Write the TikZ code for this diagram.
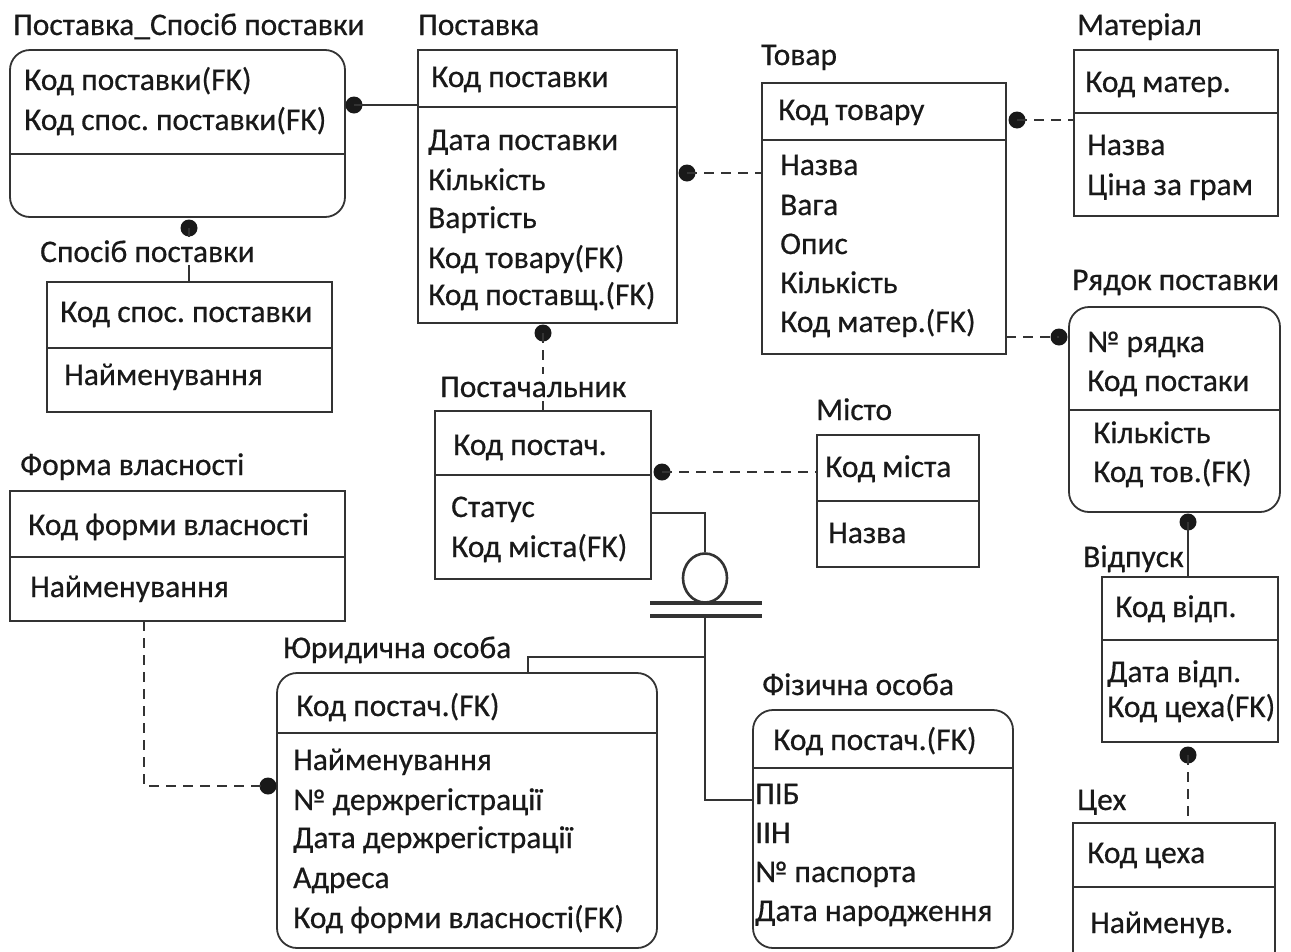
\documentclass[tikz,border=0pt]{standalone}
\usepackage{fontspec}
\setmainfont{Carlito}[FakeBold=0.5]
\usetikzlibrary{shapes.geometric}
\definecolor{ink}{gray}{0.1}
\definecolor{edge}{gray}{0.2}
\tikzset{
  ent/.style={draw=edge, line width=1.8pt, anchor=north west, inner sep=0pt, outer sep=0pt},
  rent/.style={ent, rounded corners=20pt},
  attr/.style={anchor=base west, inner sep=0pt, text=ink, font=\fontsize{31.5}{39}\selectfont\frenchspacing},
  ttl/.style={attr, fill=white, inner ysep=3pt},
  sepline/.style={draw=edge, line width=1.8pt},
  rel/.style={draw=edge, line width=2pt},
  drel/.style={rel, dash pattern=on 10pt off 7pt},
  dotnode/.style={circle, fill=ink, inner sep=0pt, minimum size=17pt},
  subline/.style={draw=edge, line width=2.6pt},
  barline/.style={draw=edge, line width=3.4pt},
}
\newcommand\divline[2]{\draw[sepline] ([yshift=-#2pt]#1.north west) -- ([yshift=-#2pt]#1.north east);}
\begin{document}
\frenchspacing
\begin{tikzpicture}[x=1pt,y=-1pt]
\useasboundingbox (0,0) rectangle (1291,951);
% entities
\node[rent, minimum width=335pt, minimum height=167pt] (psp) at (10,50) {};
\node[ent, minimum width=285pt, minimum height=130pt] (sp) at (47,282) {};
\node[ent, minimum width=259pt, minimum height=273pt] (post) at (418,50) {};
\node[ent, minimum width=244pt, minimum height=271pt] (tov) at (762,83) {};
\node[ent, minimum width=204pt, minimum height=166pt] (mat) at (1074,50) {};
\node[rent, minimum width=211pt, minimum height=205pt] (ryad) at (1069,307) {};
\node[ent, minimum width=216pt, minimum height=168pt] (pch) at (435,411) {};
\node[ent, minimum width=162pt, minimum height=132pt] (mis) at (817,435) {};
\node[ent, minimum width=335pt, minimum height=130pt] (forma) at (10,491) {};
\node[ent, minimum width=176pt, minimum height=165pt] (vidp) at (1102,577) {};
\node[rent, minimum width=380pt, minimum height=275pt] (yur) at (277,673) {};
\node[rent, minimum width=260pt, minimum height=238pt] (fiz) at (753,710) {};
\node[ent, draw=none, minimum width=202pt, minimum height=140pt] (cex) at (1073,823) {};
\draw[sepline] (cex.south west) -- (cex.north west) -- (cex.north east) -- (cex.south east);
% dividers
\divline{psp}{104}
\divline{sp}{66}
\divline{post}{57}
\divline{tov}{57}
\divline{mat}{63}
\divline{ryad}{103}
\divline{pch}{64}
\divline{mis}{66}
\divline{forma}{66}
\divline{vidp}{63}
\divline{yur}{60}
\divline{fiz}{58}
\divline{cex}{64}
% attributes
\node[attr] (psp1) at (24,90) {Код поставки(FK)};
\node[attr] (psp2) at (24,130) {Код спос. поставки(FK)};
\node[attr] (sp1) at (60,322) {Код спос. поставки};
\node[attr] (sp2) at (64,385) {Найменування};
\node[attr] (post1) at (431,87) {Код поставки};
\node[attr] (post2) at (428,150) {Дата поставки};
\node[attr] (post3) at (428,190) {Кількість};
\node[attr] (post4) at (428,228) {Вартість};
\node[attr] (post5) at (428,268) {Код товару(FK)};
\node[attr] (post6) at (428,305) {Код поставщ.(FK)};
\node[attr] (tov1) at (778,120) {Код товару};
\node[attr] (tov2) at (780,175) {Назва};
\node[attr] (tov3) at (780,215) {Вага};
\node[attr] (tov4) at (780,254) {Опис};
\node[attr] (tov5) at (780,293) {Кількість};
\node[attr] (tov6) at (780,332) {Код матер.(FK)};
\node[attr] (mat1) at (1085,92) {Код матер.};
\node[attr] (mat2) at (1087,155) {Назва};
\node[attr] (mat3) at (1087,195) {Ціна за грам};
\node[attr] (ryad1) at (1087,352) {№ рядка};
\node[attr] (ryad2) at (1087,391) {Код постаки};
\node[attr] (ryad3) at (1093,443) {Кількість};
\node[attr] (ryad4) at (1093,482) {Код тов.(FK)};
\node[attr] (pch1) at (453,455) {Код постач.};
\node[attr] (pch2) at (451,517) {Статус};
\node[attr] (pch3) at (451,557) {Код міста(FK)};
\node[attr] (mis1) at (825,477) {Код міста};
\node[attr] (mis2) at (828,543) {Назва};
\node[attr] (forma1) at (28,535) {Код форми власності};
\node[attr] (forma2) at (30,597) {Найменування};
\node[attr] (vidp1) at (1115,617) {Код відп.};
\node[attr] (vidp2) at (1107,682) {Дата відп.};
\node[attr] (vidp3) at (1107,717) {Код цеха(FK)};
\node[attr] (yur1) at (296,716) {Код постач.(FK)};
\node[attr] (yur2) at (293,770) {Найменування};
\node[attr] (yur3) at (293,810) {№ держрегістрації};
\node[attr] (yur4) at (293,848) {Дата держрегістрації};
\node[attr] (yur5) at (293,888) {Адреса};
\node[attr] (yur6) at (293,928) {Код форми власності(FK)};
\node[attr] (fiz1) at (773,750) {Код постач.(FK)};
\node[attr] (fiz2) at (755,804) {ПІБ};
\node[attr] (fiz3) at (755,843) {ІІН};
\node[attr] (fiz4) at (755,882) {№ паспорта};
\node[attr] (fiz5) at (755,921) {Дата народження};
\node[attr] (cex1) at (1087,863) {Код цеха};
\node[attr] (cex2) at (1090,933) {Найменув.};
% relationship dots
\node[dotnode] (d1) at (354,105) {};
\node[dotnode] (d2) at (189,228) {};
\node[dotnode] (d3) at (687,173) {};
\node[dotnode] (d4) at (543,333) {};
\node[dotnode] (d5) at (1017,120) {};
\node[dotnode] (d6) at (1059,337) {};
\node[dotnode] (d7) at (1188,522) {};
\node[dotnode] (d8) at (1188,755) {};
\node[dotnode] (d9) at (662,472) {};
\node[dotnode] (d11) at (268,786) {};
% connectors
\draw[rel] (d1.center) -- (d1.center -| post.west);
\draw[rel] (d2.center) -- (d2.center |- sp.north);
\draw[drel] (d3.center) -- (d3.center -| tov.west);
\draw[drel] (d4.center) -- (d4.center |- pch.north);
\draw[drel] (d5.center) -- (d5.center -| mat.west);
\draw[drel] (d6.center -| tov.east) -- (d6.center);
\draw[rel] (d7.center) -- (d7.center |- vidp.north);
\draw[drel] (d8.center) -- (d8.center |- cex.north);
\draw[drel] (d9.center) -- (d9.center -| mis.west);
\draw[drel] ([xshift=-33.5pt]forma.south) |- (d11.center);
% subtype (category) symbol
\node[draw=edge, line width=2.6pt, ellipse, inner sep=0pt, minimum width=44pt, minimum height=49pt] (cat) at (705,578) {};
\draw[subline] ([yshift=-102pt]pch.north east) -| (cat.north);
\coordinate (bar) at (706,609.5);
\draw[barline] ([xshift=-56pt,yshift=6.5pt]bar) -- ([xshift=56pt,yshift=6.5pt]bar);
\draw[barline] ([xshift=-56pt,yshift=-6.5pt]bar) -- ([xshift=56pt,yshift=-6.5pt]bar);
\draw[subline] ([xshift=-1pt,yshift=-6.5pt]bar) |- ([yshift=-90pt]fiz.north west);
\coordinate (br) at (705,657);
\draw[subline] (br) -| ([xshift=61pt]yur.north);
% titles
\node[ttl] (t1) at (13,35) {Поставка\_Спосіб поставки};
\node[ttl] (t2) at (418,35) {Поставка};
\node[ttl] (t3) at (761,65) {Товар};
\node[ttl] (t4) at (1077,35) {Матеріал};
\node[ttl] (t5) at (40,262) {Спосіб поставки};
\node[ttl] (t6) at (1072,290) {Рядок поставки};
\node[ttl] (t7) at (440,397) {Постачальник};
\node[ttl] (t8) at (816,420) {Місто};
\node[ttl] (t9) at (20,475) {Форма власності};
\node[ttl] (t10) at (1083,567) {Відпуск};
\node[ttl] (t11) at (283,658) {Юридична особа};
\node[ttl] (t12) at (762,695) {Фізична особа};
\node[ttl] (t13) at (1077,810) {Цех};
\end{tikzpicture}
\end{document}
